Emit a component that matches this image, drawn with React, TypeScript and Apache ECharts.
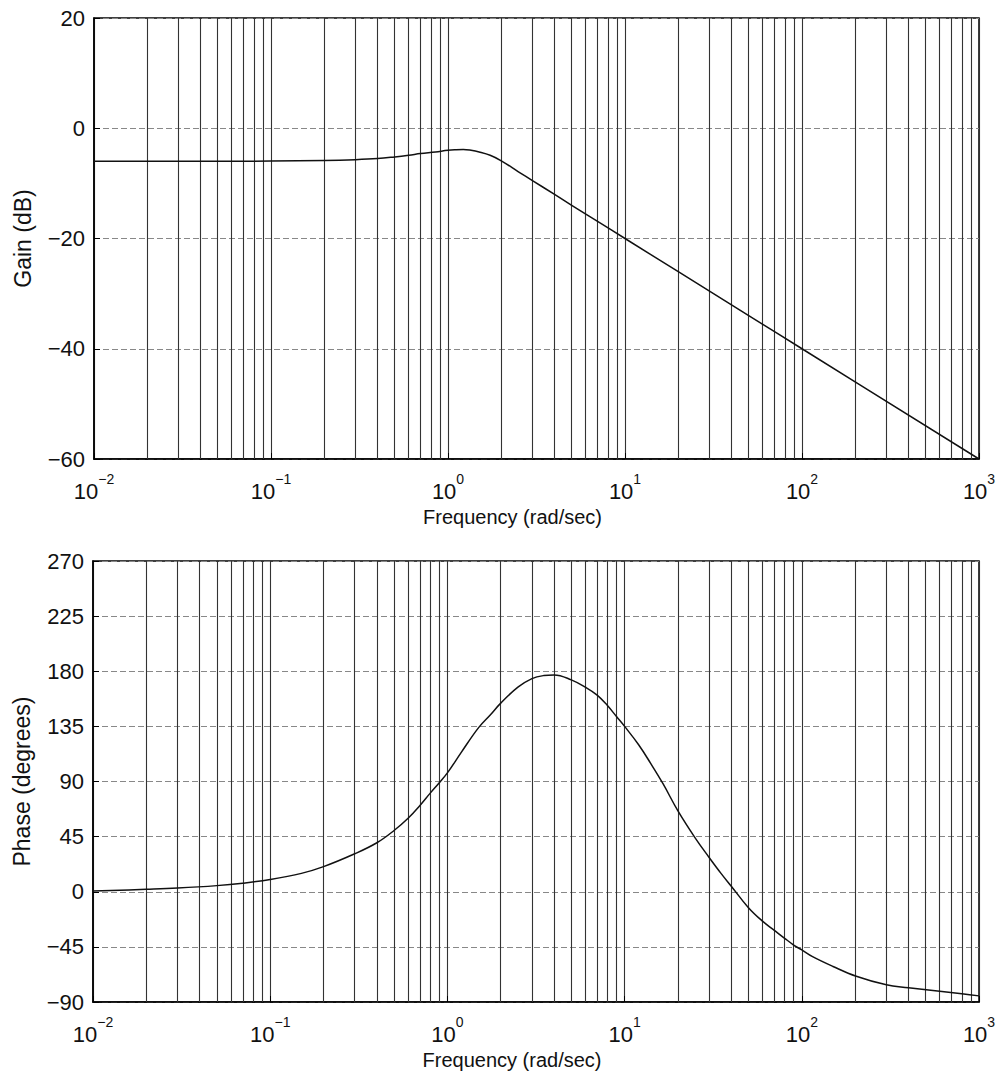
import React, { useEffect, useRef } from "react";
import * as echarts from "echarts";

// ---- data ----
const gainFreq = [0.01, 0.02, 0.05, 0.1, 0.2, 0.3, 0.4, 0.5, 0.6, 0.7, 0.85, 1.0, 1.1, 1.22, 1.35, 1.5, 1.73, 2, 2.5, 3, 4, 5, 7, 10, 20, 50, 100, 1000];
const gainDb = [-6.0, -6.0, -6.0, -5.95, -5.85, -5.7, -5.5, -5.2, -4.9, -4.6, -4.3, -4.0, -3.9, -3.85, -4.0, -4.3, -4.9, -5.9, -7.9, -9.5, -12.0, -14.0, -16.9, -20, -26, -34, -40, -60];

const phaseFreq = [0.01, 0.02, 0.03, 0.05, 0.07, 0.1, 0.15, 0.2, 0.3, 0.4, 0.5, 0.6, 0.7, 0.8, 0.9, 1.0, 1.2, 1.5, 1.75, 2, 2.5, 3, 3.5, 4, 5, 6, 7, 8, 9, 10, 12, 14, 16.5, 20, 25, 30, 35, 40, 50, 60, 70, 80, 90, 100, 115, 150, 203, 300, 400, 600, 800, 1000];
const phaseDeg = [0.6, 2, 3, 5, 7, 10, 15, 20.5, 31, 40, 50, 60, 70.5, 80.5, 89, 97, 114, 134, 144.5, 154, 167, 174, 176.5, 177, 173, 167, 160.5, 152, 143, 135, 120, 105, 88, 66, 44, 28, 15, 4.5, -13, -24, -31.5, -38, -43.5, -47.5, -53, -61, -69, -76, -78.3, -81.2, -83.2, -85];

const gainTicks = { min: -60, max: 20, step: 20 };
const phaseTicks = { min: -90, max: 270, step: 45 };
const decadeExponents = [-2, -1, 0, 1, 2];
const minorMultipliers = [2, 3, 4, 5, 6, 7, 8, 9];

const FONT = "'Liberation Sans', Arial, Helvetica, sans-serif";
const TXT = "#111";

function minorValues(): number[] {
  const out: number[] = [];
  decadeExponents.forEach((e) => {
    minorMultipliers.forEach((m) => out.push(Number((m * Math.pow(10, e)).toPrecision(6))));
  });
  return out;
}

function xAxisFor(gridIndex: number) {
  return {
    type: "log",
    logBase: 10,
    gridIndex,
    min: 0.01,
    max: 1000,
    axisLine: { show: true, onZero: false, lineStyle: { color: "#000", width: 1.5 } },
    axisTick: { show: true, inside: true, length: 6, lineStyle: { color: "#000" } },
    splitLine: { show: true, lineStyle: { color: "#333", width: 1.1, type: "solid" } },
    axisLabel: {
      margin: 13,
      formatter: (v: number) => {
        const e = Math.round(Math.log10(v));
        const s = e < 0 ? "\u2212" + Math.abs(e) : String(e);
        return "{b|10}{s|" + s + "}";
      },
      rich: {
        b: { fontSize: 22, fontFamily: FONT, color: TXT, lineHeight: 30, verticalAlign: "bottom" },
        s: { fontSize: 14, fontFamily: FONT, color: TXT, lineHeight: 13, verticalAlign: "top" },
      },
    },
    name: "Frequency (rad/sec)",
    nameLocation: "middle",
    nameGap: 48,
    nameTextStyle: { fontSize: 20, fontFamily: FONT, color: TXT, padding: [0, 48, 0, 0] },
  };
}

function yAxisFor(gridIndex: number, t: { min: number; max: number; step: number }, name: string) {
  return {
    type: "value",
    gridIndex,
    min: t.min,
    max: t.max,
    interval: t.step,
    axisLine: { show: true, onZero: false, lineStyle: { color: "#000", width: 1.5 } },
    axisTick: { show: true, inside: true, length: 6, lineStyle: { color: "#000" } },
    splitLine: { show: true, lineStyle: { color: "#888", width: 1, type: [6, 3] } },
    axisLabel: {
      margin: 9,
      fontSize: 22,
      fontFamily: FONT,
      color: TXT,
      formatter: (v: number) => String(v).replace("-", "\u2212"),
    },
    name,
    nameLocation: "middle",
    nameGap: 60,
    nameTextStyle: { fontSize: 23, fontFamily: FONT, color: TXT },
  };
}

function gridLinesSeries(idx: number) {
  return {
    type: "line",
    xAxisIndex: idx,
    yAxisIndex: idx,
    data: [],
    silent: true,
    z: 1,
    markLine: {
      silent: true,
      symbol: ["none", "none"],
      label: { show: false },
      lineStyle: { color: "#333", width: 1.1, type: "solid" },
      data: minorValues().map((v) => ({ xAxis: v })),
    },
  };
}

export default function App() {
  const ref = useRef<HTMLDivElement>(null);
  useEffect(() => {
    if (!ref.current) return;
    const chart = echarts.init(ref.current, null, { renderer: "svg" });
    chart.setOption({
      animation: false,
      backgroundColor: "#fff",
      grid: [
        { left: 94, top: 18, width: 885, height: 441, show: true, borderColor: "#000", borderWidth: 1.5, backgroundColor: "transparent" },
        { left: 93, top: 561, width: 886, height: 441, show: true, borderColor: "#000", borderWidth: 1.5, backgroundColor: "transparent" },
      ],
      xAxis: [xAxisFor(0), xAxisFor(1)],
      yAxis: [yAxisFor(0, gainTicks, "Gain (dB)"), yAxisFor(1, phaseTicks, "Phase (degrees)")],
      series: [
        gridLinesSeries(0),
        gridLinesSeries(1),
        {
          type: "line",
          xAxisIndex: 0,
          yAxisIndex: 0,
          data: gainFreq.map((f, i) => [f, gainDb[i]]),
          showSymbol: false,
          smooth: 0.4,
          z: 5,
          lineStyle: { color: "#111", width: 1.5 },
        },
        {
          type: "line",
          xAxisIndex: 1,
          yAxisIndex: 1,
          data: phaseFreq.map((f, i) => [f, phaseDeg[i]]),
          showSymbol: false,
          smooth: 0.4,
          z: 5,
          lineStyle: { color: "#111", width: 1.5 },
        },
      ],
    });
    return () => chart.dispose();
  }, []);
  return <div ref={ref} style={{ position: "fixed", left: 0, top: 0, width: 1006, height: 1082 }} />;
}
